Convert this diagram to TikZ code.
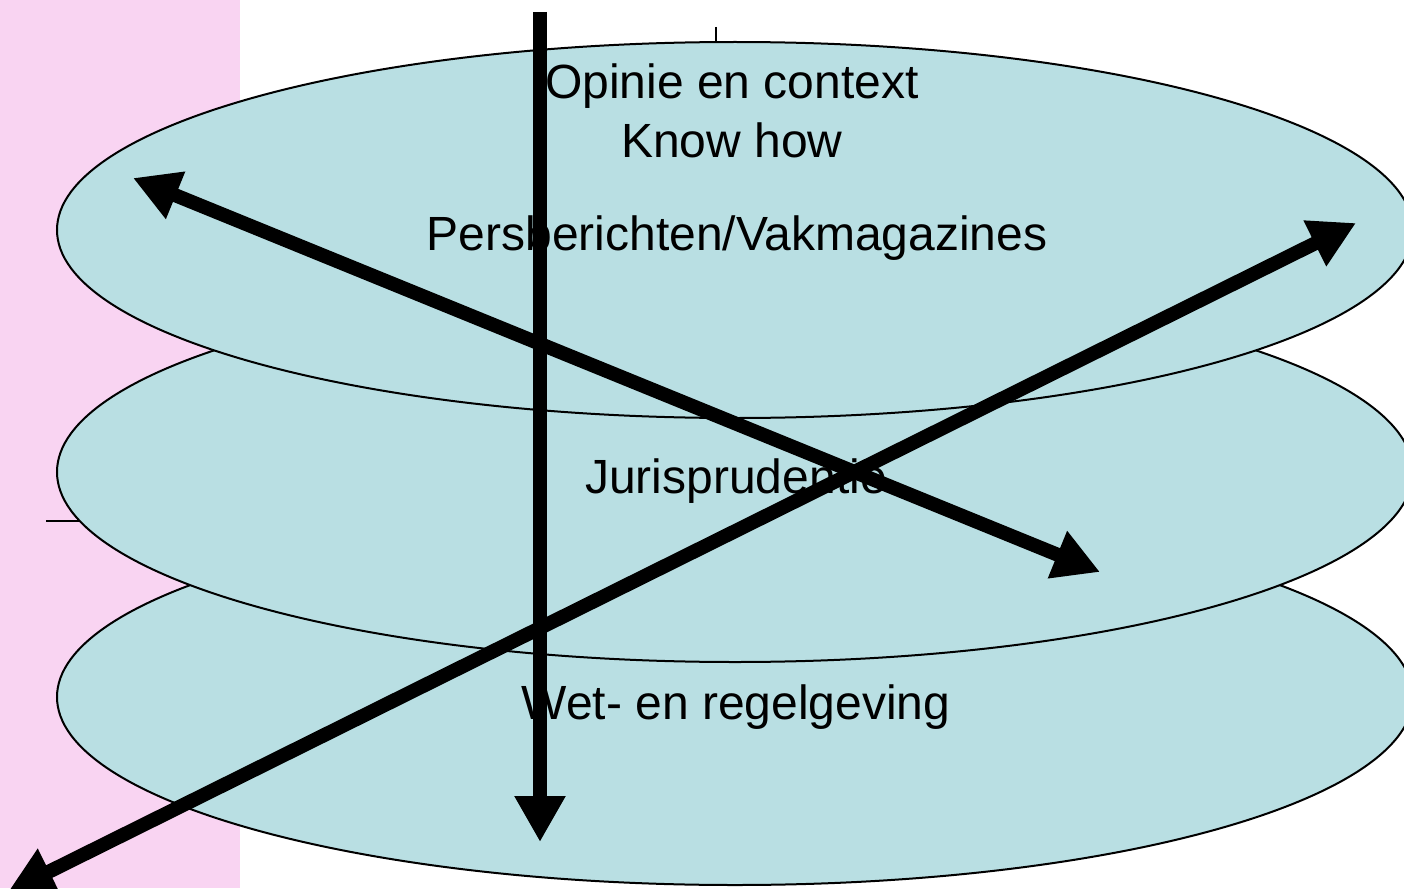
\documentclass[tikz,border=0pt]{standalone}
\usepackage{fontspec}
\setmainfont{Liberation Sans}
\usetikzlibrary{arrows.meta}
\definecolor{layerblue}{RGB}{185,223,227}
\definecolor{dotpink}{RGB}{249,212,242}
\tikzset{
  layer/.style={draw=black, line width=2pt, fill=layerblue},
  lbl/.style={inner sep=0pt, anchor=base, font=\fontsize{48}{58}\selectfont},
  bighead/.tip={Triangle[width=48pt,length=46pt]},
  bigarrow/.style={line width=14pt},
}

\begin{document}
\begin{tikzpicture}[x=1pt,y=-1pt]
\useasboundingbox (0,0) rectangle (1404,888);
\fill[dotpink] (0,0) rectangle (240,888);
\draw[line width=1.5pt] (716,27) -- (716,45);
\draw[line width=2pt] (46,521) -- (90,521);
% the three layers
\draw[layer] (735,697) ellipse (678pt and 188pt);
\draw[layer] (735,472) ellipse (678pt and 190pt);
\draw[layer] (735,230) ellipse (678pt and 188pt);
\node[lbl] (opinie) at (732,99) {Opinie en context};
\node[lbl] (knowhow) at (732,157) {Know how};
\node[lbl] (pers) at (737,250) {Persberichten/Vakmagazines};
\node[lbl] (juris) at (736,493) {Jurisprudentie};
\node[lbl] (wet) at (736,719) {Wet- en regelgeving};
% arrows
\coordinate (vtop) at (540,12);
\coordinate (vbot) at (540,842);
\coordinate (ul) at (133,178);
\coordinate (lr) at (1100,572);
\coordinate (ll) at (8,892);
\coordinate (ur) at (1356,223);
\draw[bigarrow, -bighead] (vtop) -- (vbot);
\draw[bigarrow, bighead-bighead] (ul) -- (lr);
\draw[bigarrow, bighead-bighead] (ll) -- (ur);
\end{tikzpicture}
\end{document}
